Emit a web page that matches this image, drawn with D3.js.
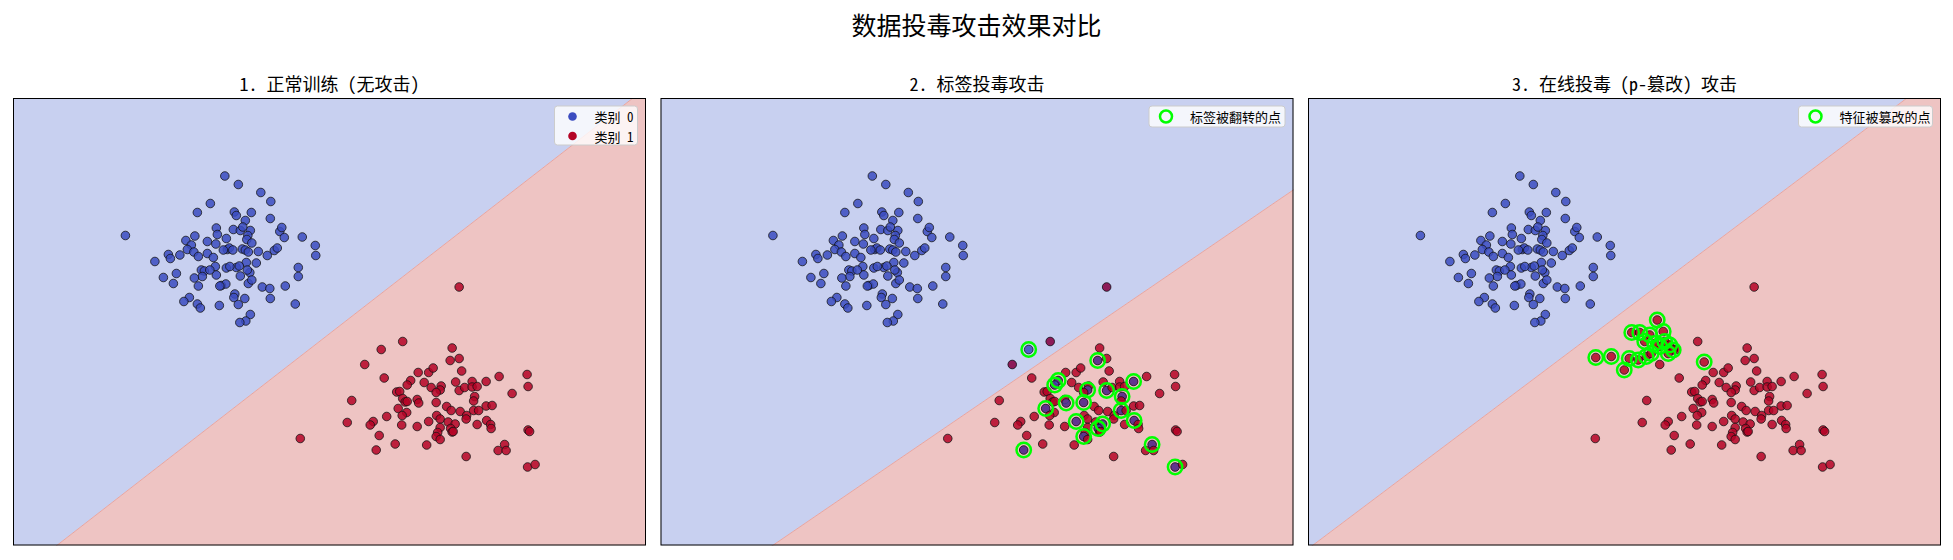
<!DOCTYPE html>
<html><head><meta charset="utf-8">
<script src="https://cdn.jsdelivr.net/npm/d3@7"></script>
<style>
body{margin:0;background:#fff;}
svg{display:block;}
text{font-family:"Noto Sans Mono CJK SC","Noto Sans CJK SC","Noto Sans",sans-serif;fill:#000;}
</style>
</head><body>
<svg id="chart" width="1953" height="560"></svg>
<script>
// ---------------- data (feature space units) ----------------
const class0X = [4.24,4.51,4.96,5.16,3.95,3.69,4.43,4.47,4.77,4.65,5.15,2.25,4.07,4.09,4.41,4.55,4.75,4.70,4.68,4.78,5.34,5.38,5.43,5.79,6.05,6.06,3.64,3.46,3.57,3.49,3.62,3.89,4.06,4.27,4.29,4.33,4.40,4.59,4.65,4.71,4.91,5.09,5.23,5.29,3.11,3.15,3.34,2.84,3.71,3.89,4.01,4.05,4.27,4.47,4.67,4.87,3.77,3.83,3.79,3.63,4.07,4.55,4.74,3.01,3.27,3.21,3.71,4.17,4.26,4.71,4.78,4.99,5.14,5.45,5.71,5.71,3.53,3.42,3.69,3.75,4.13,4.44,4.42,4.64,4.51,5.15,5.65,4.75,4.66,4.54,4.21,4.69,3.94,4.53,4.34,4.14,4.60];
const class0Y = [7.39,7.22,7.06,6.88,6.84,6.66,6.67,6.60,6.66,6.50,6.54,6.20,6.35,6.22,6.32,6.30,6.30,6.20,6.12,6.05,6.28,6.36,6.16,6.17,6.00,5.80,6.19,6.10,6.01,5.92,5.87,6.08,6.03,6.14,5.92,5.95,5.91,5.93,5.91,5.87,5.88,5.80,5.90,5.95,5.82,5.74,5.81,5.68,5.78,5.84,5.76,5.58,5.55,5.56,5.66,5.65,5.51,5.49,5.38,5.35,5.41,5.39,5.46,5.36,5.44,5.24,5.19,5.20,5.23,5.24,5.31,5.17,5.14,5.19,5.56,5.38,4.96,4.88,4.83,4.75,4.80,5.03,4.96,4.94,4.82,4.94,4.83,4.62,4.49,4.46,5.91,5.51,5.51,5.59,5.58,5.19,6.37];
const class1X = [8.93,7.80,7.37,7.04,8.79,8.75,8.93,7.43,8.11,8.32,8.41,8.98,9.73,10.29,10.31,7.96,7.89,8.23,7.68,7.74,8.37,8.57,8.55,8.86,8.93,9.04,9.19,9.19,9.29,9.47,9.99,6.78,7.80,7.85,8.09,8.12,8.47,8.68,9.24,9.22,9.47,9.59,7.71,7.88,7.79,8.77,8.95,9.08,9.22,9.32,6.69,7.21,7.15,7.48,7.78,8.09,8.32,8.48,8.55,8.71,8.85,9.07,9.29,9.48,9.56,9.57,8.55,8.76,8.79,8.50,8.47,8.55,5.75,7.33,7.65,7.27,8.28,9.07,9.71,9.84,9.87,10.31,10.34,10.30,10.45,8.47,7.89,8.81];
const class1Y = [5.17,4.08,3.92,3.62,3.95,3.70,3.74,3.35,3.46,3.46,3.55,3.49,3.38,3.42,3.18,3.30,3.21,3.26,3.07,3.08,3.16,3.19,3.11,3.27,3.10,3.16,3.28,3.17,3.18,3.28,3.04,2.90,2.94,2.87,2.92,2.85,2.86,2.78,2.98,2.89,2.79,2.80,2.74,2.66,2.60,2.70,2.68,2.60,2.70,2.70,2.46,2.48,2.41,2.58,2.41,2.38,2.48,2.60,2.53,2.47,2.43,2.53,2.42,2.50,2.42,2.34,2.36,2.34,2.27,2.26,2.18,2.12,2.14,2.20,2.03,1.91,2.01,1.78,1.90,2.02,1.90,2.31,2.28,1.57,1.62,3.06,2.88,2.28];
// panel 2: class-1 samples whose label was flipped to 0 (ringed)
const flippedIdx = [2,5,15,16,22,24,29,42,35,36,38,48,63,56,60,67,70,75,79,83];
// panel 2: samples drawn over an opposite-label duplicate (blended fill)
const overlapIdx = [0,1,3,5,15,16,22,24,29,42,35,36,38,48,63,56,60,67,70,75,79,83];
// panel 3: tampered samples (new feature values)
const tamperedX = [5.76,6.07,6.33,6.48,6.64,6.99,6.43,6.61,6.77,6.87,6.84,7.11,7.14,7.24,7.31,7.21,7.04,7.93,6.94,6.74];
const tamperedY = [3.76,3.78,3.51,4.26,4.26,4.51,3.74,3.71,3.78,3.84,4.21,4.28,4.08,4.01,3.91,3.84,3.98,3.67,4.04,4.08];
// decision boundary of each trained model (two points on the line)
const boundaryStart = [[0.876,0],[2.244,0],[0.09,0]];
const boundaryEnd   = [[12.41,8.95],[12.68,7.12],[11.99,8.95]];
const panelTitles = ["1. 正常训练 (无攻击)","2. 标签投毒攻击","3. 在线投毒 (p-篡改) 攻击"];
const mainTitle = "数据投毒攻击效果对比";
const classLabels = ["类别 0","类别 1"];
const markLabels = [null,"标签被翻转的点","特征被篡改的点"];
const xDomain = [0,12.67], yDomain = [0,8.95];

// ---------------- layout / style ----------------
const W=1953,H=560;
const panelLeft=[13,660.5,1308], panelW=633, panelTop=98, panelH=447.5;
const classCol=["rgb(59,76,192)","rgb(180,4,38)"];
const bgBlue="rgb(200,208,240)", bgRed="rgb(238,196,195)";
const ringCol="#00ff00";
const svg=d3.select("#chart");
svg.append("rect").attr("width",W).attr("height",H).attr("fill","#fff");
svg.append("text").attr("x",W/2).attr("y",24).attr("text-anchor","middle")
  .attr("dominant-baseline","central").style("font-size","25px").style("font-weight","500").text(mainTitle);

function clipHalf(poly,p0,p1,sign){
  const side=q=>sign*((p1[0]-p0[0])*(q[1]-p0[1])-(p1[1]-p0[1])*(q[0]-p0[0]));
  const out=[];
  for(let i=0;i<poly.length;i++){
    const a=poly[i], b=poly[(i+1)%poly.length];
    const sa=side(a), sb=side(b);
    if(sa>=0) out.push(a);
    if((sa>=0)!==(sb>=0)){const t=sa/(sa-sb); out.push([a[0]+t*(b[0]-a[0]),a[1]+t*(b[1]-a[1])]);}
  }
  return out;
}

panelTitles.forEach((title,pi)=>{
  const x=d3.scaleLinear().domain(xDomain).range([panelLeft[pi],panelLeft[pi]+panelW]);
  const y=d3.scaleLinear().domain(yDomain).range([panelTop+panelH,panelTop]);
  const g=svg.append("g");
  const clipId="clip"+pi;
  g.append("clipPath").attr("id",clipId).append("rect")
    .attr("x",panelLeft[pi]).attr("y",panelTop).attr("width",panelW).attr("height",panelH);
  const inner=g.append("g").attr("clip-path",`url(#${clipId})`);
  const rect=[[xDomain[0],yDomain[0]],[xDomain[1],yDomain[0]],[xDomain[1],yDomain[1]],[xDomain[0],yDomain[1]]];
  const p0=boundaryStart[pi], p1=boundaryEnd[pi];
  const line=d3.line().x(d=>x(d[0])).y(d=>y(d[1]));
  inner.append("path").attr("d",line(clipHalf(rect,p0,p1,1))+"Z").attr("fill",bgBlue);
  inner.append("path").attr("d",line(clipHalf(rect,p0,p1,-1))+"Z").attr("fill",bgRed);
  const dx=p1[0]-p0[0], dy=p1[1]-p0[1];
  inner.append("path").attr("d",line([[p0[0]-dx,p0[1]-dy],[p1[0]+dx,p1[1]+dy]]))
    .attr("stroke","rgb(232,165,160)").attr("stroke-width",1).attr("fill","none");

  const pts=[];
  class0X.forEach((v,i)=>pts.push({x:v,y:class0Y[i],c:0,under:null}));
  const flippedSet=new Set(pi===1?flippedIdx:[]);
  const overlapSet=new Set(pi===1?overlapIdx:[]);
  class1X.forEach((v,i)=>{
    const c=flippedSet.has(i)?0:1;
    pts.push({x:v,y:class1Y[i],c:c,under:overlapSet.has(i)?1-c:null});
  });
  if(pi===2) tamperedX.forEach((v,i)=>pts.push({x:v,y:tamperedY[i],c:1,under:null}));
  inner.selectAll("circle.under").data(pts.filter(d=>d.under!==null)).join("circle").attr("class","under")
    .attr("cx",d=>x(d.x)).attr("cy",d=>y(d.y)).attr("r",4.3).attr("fill",d=>classCol[d.under]);
  inner.selectAll("circle.pt").data(pts).join("circle").attr("class","pt")
    .attr("cx",d=>x(d.x)).attr("cy",d=>y(d.y)).attr("r",4.3)
    .attr("fill",d=>classCol[d.c]).attr("fill-opacity",d=>d.under!==null?0.68:0.85)
    .attr("stroke","#111").attr("stroke-opacity",0.85).attr("stroke-width",0.9);

  let rings=[];
  if(pi===1) rings=flippedIdx.map(i=>[class1X[i],class1Y[i]]);
  if(pi===2) rings=tamperedX.map((v,i)=>[v,tamperedY[i]]);
  inner.selectAll("circle.ring").data(rings).join("circle").attr("class","ring")
    .attr("cx",d=>x(d[0])).attr("cy",d=>y(d[1])).attr("r",7.2)
    .attr("fill","none").attr("stroke",ringCol).attr("stroke-width",2.5);

  g.append("rect").attr("x",panelLeft[pi]+0.5).attr("y",panelTop+0.5).attr("width",panelW-1).attr("height",panelH-1)
    .attr("fill","none").attr("stroke","#000").attr("stroke-width",1);
  svg.append("text").attr("x",panelLeft[pi]+panelW/2).attr("y",83).attr("text-anchor","middle")
    .attr("dominant-baseline","central").style("font-size","18px").text(title);

  const right=panelLeft[pi]+panelW-8.5;
  const lg=svg.append("g");
  if(pi===0){
    const lw=83, lh=39;
    lg.append("rect").attr("x",right-lw).attr("y",panelTop+8).attr("width",lw).attr("height",lh).attr("rx",3)
      .attr("fill","#fff").attr("fill-opacity",0.8).attr("stroke","#ccc").attr("stroke-width",1);
    classLabels.forEach((lab,k)=>{
      const cy=panelTop+18.5+k*19.5;
      lg.append("circle").attr("cx",right-lw+18).attr("cy",cy).attr("r",4.3).attr("fill",classCol[k]);
      lg.append("text").attr("x",right-lw+40).attr("y",cy).attr("dominant-baseline","central")
        .style("font-size","13px").text(lab);
    });
  } else {
    const lw=pi===1?136:134, lh=21;
    lg.append("rect").attr("x",right-lw).attr("y",panelTop+8).attr("width",lw).attr("height",lh).attr("rx",3)
      .attr("fill","#fff").attr("fill-opacity",0.8).attr("stroke","#ccc").attr("stroke-width",1);
    const cy=panelTop+18.5;
    lg.append("circle").attr("cx",right-lw+17).attr("cy",cy).attr("r",6).attr("fill","none")
      .attr("stroke",ringCol).attr("stroke-width",2.5);
    lg.append("text").attr("x",right-lw+41).attr("y",cy).attr("dominant-baseline","central")
      .style("font-size","13px").text(markLabels[pi]);
  }
});
</script>
</body></html>
